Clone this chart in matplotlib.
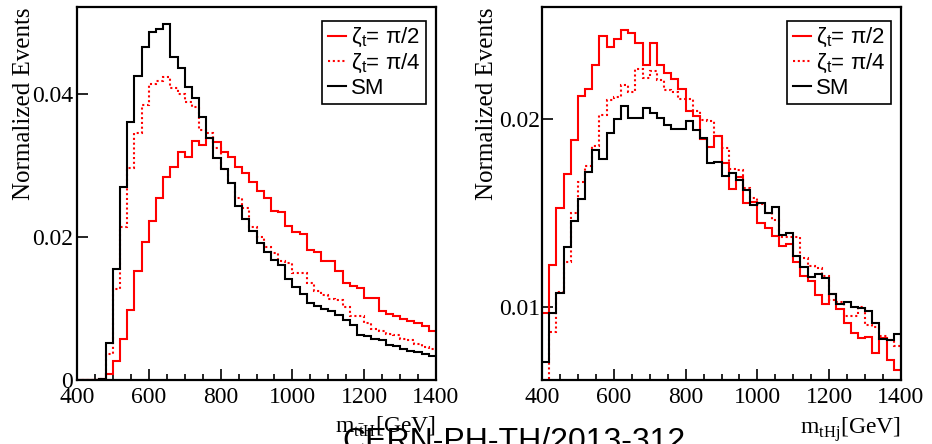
import numpy as np
import matplotlib
matplotlib.use('Agg')
import matplotlib.pyplot as plt
from matplotlib.lines import Line2D
from matplotlib.ticker import FixedLocator, MultipleLocator, NullLocator, FixedFormatter

# ---------------- data ----------------
bin_edges = np.arange(400, 1401, 20)

# left panel: m_ttH
ttH_pi2 = [0, 0, 0, 0.0002, 0.0008, 0.0027, 0.0058, 0.0098, 0.0152, 0.0193,
           0.0223, 0.0255, 0.0284, 0.0298, 0.0319, 0.0313, 0.0335, 0.0329, 0.0339, 0.0334,
           0.0320, 0.0313, 0.0298, 0.0290, 0.0278, 0.0265, 0.0255, 0.0237, 0.0236, 0.0216,
           0.0207, 0.0205, 0.0182, 0.0180, 0.0167, 0.0167, 0.0152, 0.0136, 0.0132, 0.0129,
           0.0115, 0.0115, 0.0096, 0.0093, 0.0089, 0.0085, 0.0082, 0.0080, 0.0075, 0.0069]
ttH_pi4 = [0, 0, 0, 0.0001, 0.0037, 0.0127, 0.0214, 0.0297, 0.0346, 0.0385,
           0.0414, 0.0419, 0.0424, 0.0409, 0.0400, 0.0390, 0.0383, 0.0350, 0.0346, 0.0325,
           0.0295, 0.0276, 0.0255, 0.0241, 0.0215, 0.0201, 0.0187, 0.0178, 0.0166, 0.0164,
           0.0150, 0.0150, 0.0136, 0.0125, 0.0119, 0.0114, 0.0112, 0.0102, 0.0090, 0.0089,
           0.0080, 0.0072, 0.0069, 0.0065, 0.0063, 0.0057, 0.0056, 0.0050, 0.0046, 0.0044]
ttH_sm = [0, 0, 0, 0.0002, 0.0052, 0.0155, 0.0270, 0.0362, 0.0426, 0.0467,
          0.0487, 0.0492, 0.0498, 0.0452, 0.0437, 0.0410, 0.0395, 0.0368, 0.0339, 0.0311,
          0.0295, 0.0276, 0.0244, 0.0225, 0.0209, 0.0192, 0.0179, 0.0168, 0.0161, 0.0141,
          0.0130, 0.0120, 0.0108, 0.0103, 0.0100, 0.0097, 0.0091, 0.0084, 0.0077, 0.0063,
          0.0061, 0.0058, 0.0056, 0.0049, 0.0048, 0.0043, 0.0041, 0.0039, 0.0037, 0.0033]

# right panel: m_tHj
tHj_pi2 = [0.0098, 0.01169, 0.0144, 0.01633, 0.01853, 0.0218, 0.02234, 0.02443, 0.02713, 0.02605,
           0.02686, 0.0277, 0.02746, 0.02646, 0.02435, 0.02646, 0.02443, 0.0237, 0.02318, 0.02234,
           0.02063, 0.0202, 0.0186, 0.01804, 0.01876, 0.01701, 0.01545, 0.01613, 0.01467, 0.01473,
           0.01366, 0.01338, 0.01301, 0.01254, 0.01263, 0.0118, 0.01122, 0.01102, 0.01046, 0.01012,
           0.0105, 0.00993, 0.00943, 0.00909, 0.00892, 0.00895, 0.00844, 0.00892, 0.00824, 0.00794]
tHj_pi4 = [0.0072, 0.00914, 0.01059, 0.0118, 0.01414, 0.01583, 0.0168, 0.01808, 0.02032, 0.02142,
           0.02169, 0.0227, 0.02207, 0.02404, 0.02326, 0.02384, 0.02312, 0.02228, 0.0221, 0.02153,
           0.02153, 0.02058, 0.01995, 0.01983, 0.01876, 0.01797, 0.01663, 0.0166, 0.0155, 0.01494,
           0.01464, 0.01414, 0.0138, 0.01297, 0.01294, 0.01294, 0.01198, 0.01162, 0.01155, 0.0112,
           0.01027, 0.01021, 0.0097, 0.0097, 0.01002, 0.00937, 0.00931, 0.00898, 0.00887, 0.00867]
tHj_sm = [0.00818, 0.0098, 0.01053, 0.01246, 0.01375, 0.01489, 0.01645, 0.01786, 0.01726, 0.01899,
          0.0200, 0.02101, 0.02007, 0.02007, 0.02083, 0.02045, 0.02007, 0.01959, 0.01928, 0.01924,
          0.01988, 0.01918, 0.01865, 0.01701, 0.01705, 0.01623, 0.01639, 0.01599, 0.01537, 0.01458,
          0.01467, 0.01414, 0.01446, 0.01304, 0.01314, 0.01208, 0.01159, 0.01116, 0.01131, 0.01113,
          0.0105, 0.01012, 0.01021, 0.01002, 0.00996, 0.00988, 0.00945, 0.00889, 0.00885, 0.00905]

legend_labels = ['ζ$_\\mathregular{t}$= π/2', 'ζ$_\\mathregular{t}$= π/4', 'SM']
left_yticks = [0, 0.02, 0.04]
left_yticklabels = ['0', '0.02', '0.04']
right_yticks = [0.01, 0.02]
right_yticklabels = ['0.01', '0.02']
xticks = [400, 600, 800, 1000, 1200, 1400]

# ---------------- style ----------------
RED = '#ff0000'
SERIF = 'Liberation Serif'
SANS = 'Liberation Sans'
LW = 1.5
dotted = (0, (1.0, 1.3))

fig = plt.figure(figsize=(9.32, 4.44), dpi=100)
axL = fig.add_axes([77/932, 64/444, 359/932, 373/444])
axR = fig.add_axes([542/932, 64/444, 359/932, 373/444])


def draw(ax, pi2, pi4, sm):
    ax.stairs(pi2, bin_edges, baseline=None, color=RED, lw=LW, zorder=3)
    ax.stairs(pi4, bin_edges, baseline=None, color=RED, lw=LW, linestyle=dotted, zorder=3)
    ax.stairs(sm, bin_edges, baseline=None, color='black', lw=LW, zorder=4)
    ax.set_xlim(400, 1400)
    ax.xaxis.set_major_locator(FixedLocator(xticks))
    ax.xaxis.set_minor_locator(MultipleLocator(50))
    ax.yaxis.set_minor_locator(NullLocator())
    ax.tick_params(which='both', direction='in', top=False, right=False, width=1.2)
    ax.tick_params(which='major', length=8, labelsize=17)
    ax.tick_params(which='minor', length=4.5)
    ax.tick_params(axis='x', pad=5)
    for lab in ax.get_xticklabels() + ax.get_yticklabels():
        lab.set_fontfamily(SERIF)
    for sp in ax.spines.values():
        sp.set_linewidth(1.6)
        sp.set_zorder(6)
    handles = [Line2D([], [], color=RED, lw=LW),
               Line2D([], [], color=RED, lw=LW, linestyle=dotted),
               Line2D([], [], color='black', lw=LW)]
    leg = ax.legend(handles, legend_labels, loc='upper right',
                    bbox_to_anchor=(0.973, 0.963), bbox_transform=ax.transAxes,
                    borderaxespad=0, prop={'family': SANS, 'size': 16},
                    handlelength=0.8, handletextpad=0.25, labelspacing=0.12,
                    borderpad=0.25, fancybox=False, framealpha=1,
                    edgecolor='black')
    leg.get_frame().set_linewidth(1.2)
    leg.set_zorder(7)


draw(axL, ttH_pi2, ttH_pi4, ttH_sm)
draw(axR, tHj_pi2, tHj_pi4, tHj_sm)

axL.set_ylim(0, 0.05225)
axL.yaxis.set_major_locator(FixedLocator(left_yticks))
axL.yaxis.set_major_formatter(FixedFormatter(left_yticklabels))
axL.tick_params(axis='y', pad=3)

axR.set_yscale('log')
axR.set_ylim(0.00765, 0.0302)
axR.yaxis.set_major_locator(FixedLocator(right_yticks))
axR.yaxis.set_major_formatter(FixedFormatter(right_yticklabels))
axR.yaxis.set_minor_locator(NullLocator())
axR.tick_params(axis='y', pad=1)

for ax in (axL, axR):
    for lab in ax.get_xticklabels() + ax.get_yticklabels():
        lab.set_fontfamily(SERIF)

axL.set_ylabel('Normalized Events', fontsize=18, family=SERIF, loc='top')
axL.yaxis.set_label_coords(-0.117, 1.0)
axR.set_ylabel('Normalized Events', fontsize=18, family=SERIF, loc='top')
axR.yaxis.set_label_coords(-0.1226, 1.0)

axL.set_xlabel('m$_\\mathregular{t\\bar{t}H}$[GeV]', fontsize=17, family=SERIF, loc='right')
axL.xaxis.set_label_coords(1.0, -0.094)
axR.set_xlabel('m$_\\mathregular{tHj}$[GeV]', fontsize=17, family=SERIF, loc='right')
axR.xaxis.set_label_coords(1.0, -0.094)

fig.text(342/932, (444-427)/444, 'CERN-PH-TH/2013-312', ha='left', va='top',
         fontsize=23, family=SANS, color='black', zorder=10)

fig.savefig('out.png', dpi=100)
